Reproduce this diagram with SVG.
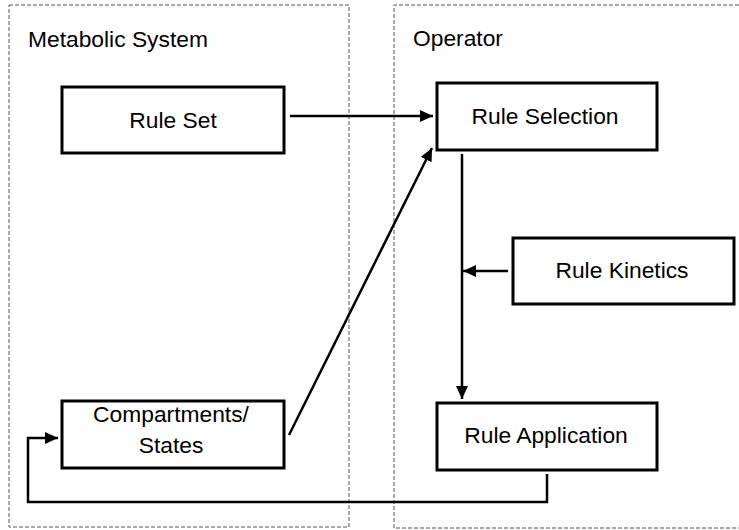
<svg xmlns="http://www.w3.org/2000/svg" width="739" height="530" viewBox="0 0 739 530">
<defs>
<marker id="ah" markerWidth="13" markerHeight="12" refX="13" refY="6" orient="auto" markerUnits="userSpaceOnUse">
<path d="M0,0 L13,6 L0,12 Z" fill="#000"/>
</marker>
<style>
.cont{fill:none;stroke:#555;stroke-width:1;stroke-dasharray:4 2}
.box{fill:#fff;stroke:#000;stroke-width:3}
.t{font-family:"Liberation Sans",Arial,sans-serif;font-size:22.8px;fill:#000}
.c{text-anchor:middle}
.ln{fill:none;stroke:#000;stroke-width:2.5}
</style>
</defs>
<rect width="739" height="530" fill="#fff"/>
<g id="metabolic-system">
<rect class="cont" x="9" y="5" width="340" height="522"/>
<text class="t" x="28" y="47">Metabolic System</text>
</g>
<g id="operator">
<path class="cont" d="M745,5 H394 V528 H745"/>
<text class="t" x="413" y="46">Operator</text>
</g>
<g id="rule-set">
<rect class="box" x="62" y="87" width="222" height="66"/>
<text class="t c" x="173" y="128">Rule Set</text>
</g>
<g id="compartments-states">
<rect class="box" x="62" y="401" width="222" height="67"/>
<text class="t c" x="171" y="422">Compartments/</text>
<text class="t c" x="171" y="453">States</text>
</g>
<g id="rule-selection">
<rect class="box" x="437" y="83" width="220" height="67"/>
<text class="t c" x="545" y="124">Rule Selection</text>
</g>
<g id="rule-kinetics">
<rect class="box" x="513" y="238" width="221" height="66"/>
<text class="t c" x="622" y="278">Rule Kinetics</text>
</g>
<g id="rule-application">
<rect class="box" x="437" y="403" width="220" height="67"/>
<text class="t c" x="546" y="443">Rule Application</text>
</g>
<g id="connectors">
<line class="ln" x1="290" y1="116" x2="433" y2="116" marker-end="url(#ah)"/>
<line class="ln" x1="289" y1="435" x2="432" y2="148" marker-end="url(#ah)"/>
<line class="ln" x1="462" y1="154" x2="462" y2="399" marker-end="url(#ah)"/>
<line class="ln" x1="508" y1="271" x2="463" y2="271" marker-end="url(#ah)"/>
<path class="ln" d="M547,474 V502 H28 V438 H58" marker-end="url(#ah)"/>
</g>
</svg>
